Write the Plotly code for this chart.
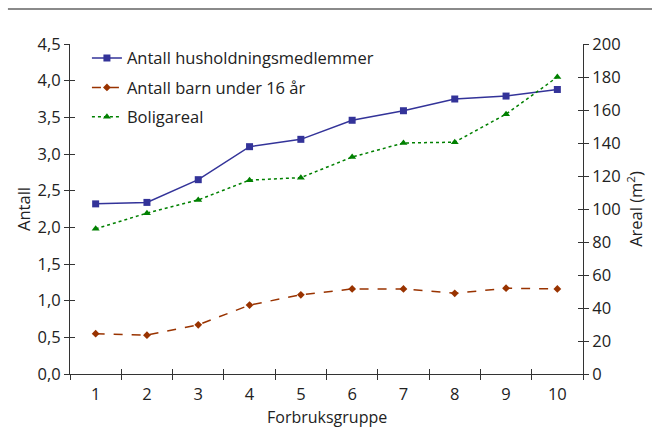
import plotly.graph_objects as go

# Household size and dwelling area by consumption group
groups = ["1", "2", "3", "4", "5", "6", "7", "8", "9", "10"]
husholdningsmedlemmer = [2.32, 2.34, 2.65, 3.10, 3.20, 3.46, 3.59, 3.75, 3.79, 3.88]
barn_under_16 = [0.55, 0.53, 0.67, 0.94, 1.08, 1.16, 1.16, 1.10, 1.17, 1.16]
boligareal = [88, 97.5, 105.5, 117.5, 119, 131.5, 140, 140.5, 157.5, 180]

FONT = "Open Sans"
TXT = "#222222"
AX = "#333333"
FS = 16.5

fig = go.Figure()
fig.add_trace(go.Scatter(
    x=groups, y=husholdningsmedlemmer, name="Antall husholdningsmedlemmer",
    legendgroup="a", mode="lines+markers", line=dict(color="#333399", width=1.5),
    marker=dict(symbol="square", size=7, color="#333399"),
))
fig.add_trace(go.Scatter(
    x=groups, y=barn_under_16, name="Antall barn under 16 år",
    legendgroup="b", mode="lines+markers", line=dict(color="#993300", width=1.5, dash="dash"),
    marker=dict(symbol="diamond", size=6, color="#993300"),
))
fig.add_trace(go.Scatter(
    x=groups, y=boligareal, name="Boligareal", yaxis="y2",
    legendgroup="c", mode="lines+markers", line=dict(color="#008000", width=1.5, dash="dot"),
    marker=dict(symbol="triangle-up", size=7, color="#008000"),
))

tickfont = dict(family=FONT, size=FS, color=TXT)
titlefont = dict(family=FONT, size=FS, color=TXT)

fig.update_layout(
    width=652, height=427,
    margin=dict(l=70, r=69, t=44, b=53, autoexpand=False),
    paper_bgcolor="white", plot_bgcolor="white",
    separators=", ",
    font=dict(family=FONT, size=FS, color=TXT),
    showlegend=True,
    legend=dict(x=0.033, y=1.01, xanchor="left", yanchor="top",
                bgcolor="rgba(0,0,0,0)", font=dict(family=FONT, size=FS, color=TXT),
                traceorder="grouped", tracegroupgap=5, itemwidth=30),
    xaxis=dict(type="category", range=[-0.5, 9.5], tickson="boundaries",
               ticks="outside", ticklen=5, tickcolor=AX, showline=True,
               linecolor=AX, linewidth=1, showgrid=False, tickfont=tickfont,
               ticklabelstandoff=5, automargin=False),
    yaxis=dict(range=[0, 4.5], dtick=0.5, tickformat=".1f", ticks="outside",
               ticklen=5, tickcolor=AX, showline=True, linecolor=AX,
               showgrid=False, zeroline=False, tickfont=tickfont, automargin=False,
               title=dict(text="Antall", font=titlefont, standoff=2)),
    yaxis2=dict(range=[0, 200], dtick=20, overlaying="y", side="right",
                ticks="outside", ticklen=5, tickcolor=AX, showline=True,
                linecolor=AX, showgrid=False, zeroline=False, tickfont=tickfont,
                automargin=False,
                title=dict(text="Areal (m<sup>2</sup>)", font=titlefont, standoff=10)),
    # inner halves of the crossing tick marks
    yaxis3=dict(range=[0, 4.5], dtick=0.5, overlaying="y", side="left",
                ticks="inside", ticklen=5, tickcolor=AX, showticklabels=False,
                showgrid=False, zeroline=False, showline=False, automargin=False),
    yaxis4=dict(range=[0, 200], dtick=20, overlaying="y", side="right",
                ticks="inside", ticklen=5, tickcolor=AX, showticklabels=False,
                showgrid=False, zeroline=False, showline=False, automargin=False),
    xaxis2=dict(type="category", range=[-0.5, 9.5], overlaying="x", side="bottom",
                tickson="boundaries", ticks="inside", ticklen=5, tickcolor=AX,
                showticklabels=False, showgrid=False, showline=False, automargin=False,
                categoryorder="array", categoryarray=groups),
)

# x-axis title placed just under the category labels
fig.add_annotation(text="Forbruksgruppe", xref="paper", yref="paper",
                   x=0.5, y=-0.131, xanchor="center", yanchor="middle",
                   showarrow=False, font=dict(family=FONT, size=16, color=TXT))

# invisible traces to activate the tick-only axes
fig.add_trace(go.Scatter(x=groups, y=[None] * 10, yaxis="y3", xaxis="x2",
                         showlegend=False, hoverinfo="skip"))
fig.add_trace(go.Scatter(x=groups, y=[None] * 10, yaxis="y4",
                         showlegend=False, hoverinfo="skip"))

# rule under the page heading
fig.add_shape(type="line", xref="paper", yref="paper",
              x0=-0.121, x1=1.14, y0=1.106, y1=1.106,
              line=dict(color="#8a8a8a", width=2))

fig.write_html("out.html")
